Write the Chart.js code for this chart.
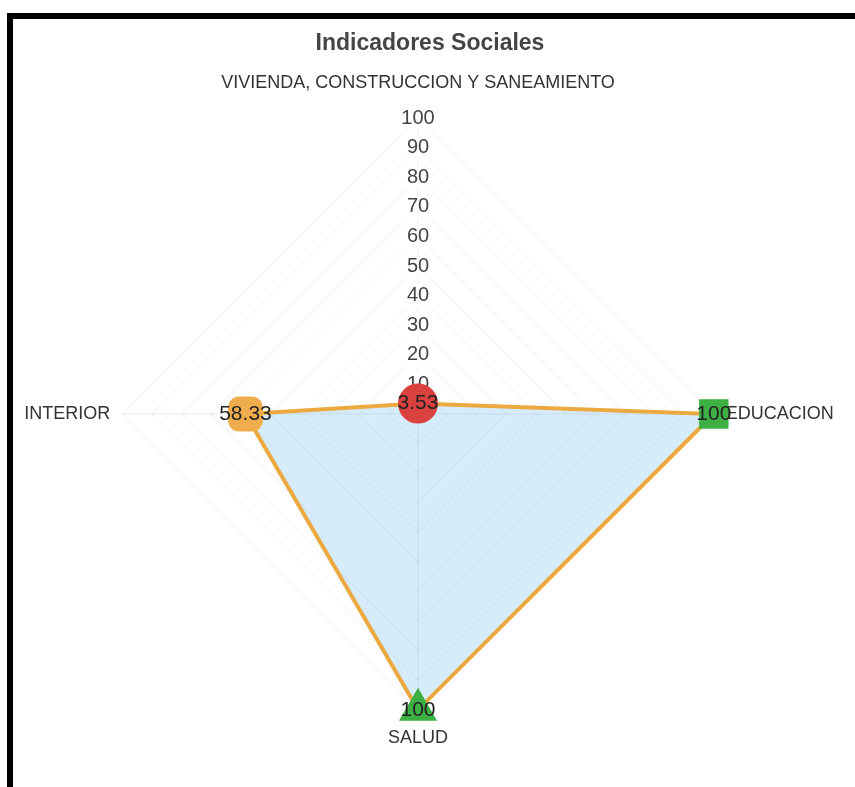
<!DOCTYPE html>
<html>
<head>
<meta charset="utf-8">
<script src="https://cdn.jsdelivr.net/npm/chart.js@4/dist/chart.umd.min.js"></script>
<style>
  html, body { margin: 0; padding: 0; background: #fff; overflow: hidden; }
  .frame {
    position: absolute;
    left: 7px;
    top: 13px;
    width: 900px;
    height: 900px;
    border-left: 6px solid #000;
    border-top: 6px solid #000;
  }
  .chart-box {
    position: absolute;
    left: 0;
    top: 0;
    width: 834px;
    height: 734px;
  }
</style>
</head>
<body>
<div class="frame">
  <div class="chart-box"><canvas id="chart"></canvas></div>
</div>
<script>
const labels = ["VIVIENDA, CONSTRUCCION Y SANEAMIENTO", "EDUCACION", "SALUD", "INTERIOR"];
const values = [3.53, 100, 100, 58.33];
const pointColors = ["#d9423f", "#3cb043", "#3cb043", "#f0ad4e"];
const pointShapes = ["circle", "rect", "triangle", "rectRounded"];
const labelPadding = [12, 0, 5, 0];

// etiquetas de valor sobre cada punto
const valueLabels = {
  id: "valueLabels",
  afterDatasetsDraw(chart) {
    const ctx = chart.ctx;
    const meta = chart.getDatasetMeta(0);
    ctx.save();
    ctx.font = "21px 'Liberation Sans', Arial, sans-serif";
    ctx.fillStyle = "#222";
    ctx.textAlign = "center";
    ctx.textBaseline = "middle";
    meta.data.forEach((pt, i) => {
      ctx.fillText(String(values[i]), pt.x, pt.y);
    });
    ctx.restore();
  }
};

new Chart(document.getElementById("chart"), {
  type: "radar",
  data: {
    labels,
    datasets: [{
      label: "Indicadores",
      data: values,
      borderColor: "#eba940",
      borderWidth: 4,
      backgroundColor: "rgba(54, 162, 235, 0.2)",
      fill: true,
      pointStyle: pointShapes,
      pointBackgroundColor: pointColors,
      pointBorderColor: pointColors,
      pointRadius: 18,
      pointHoverRadius: 18
    }]
  },
  options: {
    responsive: true,
    maintainAspectRatio: false,
    animation: false,
    plugins: {
      legend: { display: false },
      tooltip: { enabled: false },
      title: {
        display: true,
        text: "Indicadores Sociales",
        color: "#444",
        font: { family: "'Liberation Sans', Arial, sans-serif", size: 23, weight: "bold" },
        padding: { top: 11, bottom: 12 }
      }
    },
    scales: {
      r: {
        min: 0,
        max: 100,
        ticks: {
          stepSize: 10,
          color: "#444",
          font: { family: "'Liberation Sans', Arial, sans-serif", size: 20 },
          backdropColor: "rgba(255,255,255,0.75)"
        },
        grid: { color: "rgba(0,0,0,0.07)" },
        angleLines: { color: "rgba(0,0,0,0.08)" },
        pointLabels: {
          color: "#333",
          padding: (ctx) => labelPadding[ctx.index],
          font: { family: "'Liberation Sans', Arial, sans-serif", size: 18 }
        }
      }
    }
  },
  plugins: [valueLabels]
});
</script>
</body>
</html>
